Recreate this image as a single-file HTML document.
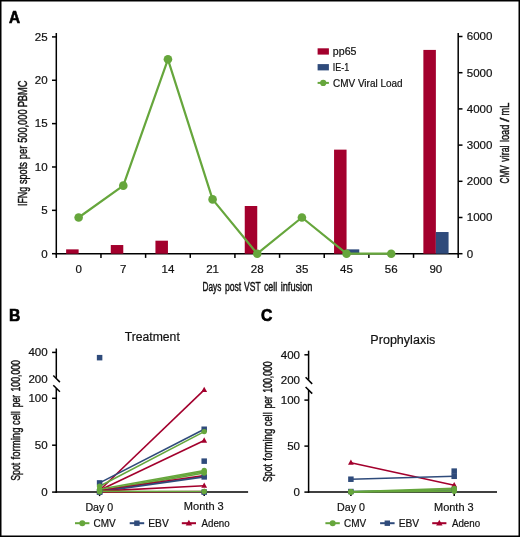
<!DOCTYPE html>
<html><head><meta charset="utf-8"><style>
html,body{margin:0;padding:0;background:#fff;}
svg{display:block;will-change:transform;}
text{font-family:"Liberation Sans", sans-serif;stroke:#111;stroke-width:0.2px;}
</style></head><body>
<svg width="520" height="537" viewBox="0 0 520 537">
<rect width="520" height="537" fill="#fff"/>
<text x="9.07" y="22.6" font-size="15.7" font-weight="bold" fill="#000" style="stroke:#000;stroke-width:0.6px" textLength="11.09" lengthAdjust="spacingAndGlyphs">A</text>
<line x1="56.3" y1="33" x2="56.3" y2="254.45" stroke="#000" stroke-width="1.5" />
<line x1="458.2" y1="33" x2="458.2" y2="254.45" stroke="#000" stroke-width="1.5" />
<line x1="55.55" y1="253.7" x2="458.95" y2="253.7" stroke="#000" stroke-width="1.5" />
<line x1="52" y1="253.7" x2="56.3" y2="253.7" stroke="#000" stroke-width="1.5" />
<text x="47.72" y="257.55" font-size="11" text-anchor="end" fill="#111" textLength="6.42" lengthAdjust="spacingAndGlyphs">0</text>
<line x1="52" y1="210.34" x2="56.3" y2="210.34" stroke="#000" stroke-width="1.5" />
<text x="47.72" y="214.19" font-size="11" text-anchor="end" fill="#111" textLength="6.42" lengthAdjust="spacingAndGlyphs">5</text>
<line x1="52" y1="166.98" x2="56.3" y2="166.98" stroke="#000" stroke-width="1.5" />
<text x="47.72" y="170.83" font-size="11" text-anchor="end" fill="#111" textLength="12.85" lengthAdjust="spacingAndGlyphs">10</text>
<line x1="52" y1="123.62" x2="56.3" y2="123.62" stroke="#000" stroke-width="1.5" />
<text x="47.72" y="127.47" font-size="11" text-anchor="end" fill="#111" textLength="12.85" lengthAdjust="spacingAndGlyphs">15</text>
<line x1="52" y1="80.26" x2="56.3" y2="80.26" stroke="#000" stroke-width="1.5" />
<text x="47.72" y="84.11" font-size="11" text-anchor="end" fill="#111" textLength="12.85" lengthAdjust="spacingAndGlyphs">20</text>
<line x1="52" y1="36.9" x2="56.3" y2="36.9" stroke="#000" stroke-width="1.5" />
<text x="47.72" y="40.75" font-size="11" text-anchor="end" fill="#111" textLength="12.85" lengthAdjust="spacingAndGlyphs">25</text>
<line x1="458.2" y1="253.7" x2="462.5" y2="253.7" stroke="#000" stroke-width="1.5" />
<text x="466.78" y="257.55" font-size="11" text-anchor="start" fill="#111" textLength="6.42" lengthAdjust="spacingAndGlyphs">0</text>
<line x1="458.2" y1="217.5" x2="462.5" y2="217.5" stroke="#000" stroke-width="1.5" />
<text x="466.76" y="221.35" font-size="11" text-anchor="start" fill="#111" textLength="25.69" lengthAdjust="spacingAndGlyphs">1000</text>
<line x1="458.2" y1="181.3" x2="462.5" y2="181.3" stroke="#000" stroke-width="1.5" />
<text x="466.77" y="185.15" font-size="11" text-anchor="start" fill="#111" textLength="25.69" lengthAdjust="spacingAndGlyphs">2000</text>
<line x1="458.2" y1="145.1" x2="462.5" y2="145.1" stroke="#000" stroke-width="1.5" />
<text x="466.78" y="148.95" font-size="11" text-anchor="start" fill="#111" textLength="25.69" lengthAdjust="spacingAndGlyphs">3000</text>
<line x1="458.2" y1="108.9" x2="462.5" y2="108.9" stroke="#000" stroke-width="1.5" />
<text x="466.79" y="112.75" font-size="11" text-anchor="start" fill="#111" textLength="25.69" lengthAdjust="spacingAndGlyphs">4000</text>
<line x1="458.2" y1="72.7" x2="462.5" y2="72.7" stroke="#000" stroke-width="1.5" />
<text x="466.78" y="76.55" font-size="11" text-anchor="start" fill="#111" textLength="25.69" lengthAdjust="spacingAndGlyphs">5000</text>
<line x1="458.2" y1="36.5" x2="462.5" y2="36.5" stroke="#000" stroke-width="1.5" />
<text x="466.77" y="40.35" font-size="11" text-anchor="start" fill="#111" textLength="25.69" lengthAdjust="spacingAndGlyphs">6000</text>
<line x1="56.3" y1="253.7" x2="56.3" y2="257.9" stroke="#000" stroke-width="1.5" />
<line x1="100.96" y1="253.7" x2="100.96" y2="257.9" stroke="#000" stroke-width="1.5" />
<line x1="145.61" y1="253.7" x2="145.61" y2="257.9" stroke="#000" stroke-width="1.5" />
<line x1="190.27" y1="253.7" x2="190.27" y2="257.9" stroke="#000" stroke-width="1.5" />
<line x1="234.92" y1="253.7" x2="234.92" y2="257.9" stroke="#000" stroke-width="1.5" />
<line x1="279.58" y1="253.7" x2="279.58" y2="257.9" stroke="#000" stroke-width="1.5" />
<line x1="324.23" y1="253.7" x2="324.23" y2="257.9" stroke="#000" stroke-width="1.5" />
<line x1="368.89" y1="253.7" x2="368.89" y2="257.9" stroke="#000" stroke-width="1.5" />
<line x1="413.54" y1="253.7" x2="413.54" y2="257.9" stroke="#000" stroke-width="1.5" />
<line x1="458.2" y1="253.7" x2="458.2" y2="257.9" stroke="#000" stroke-width="1.5" />
<text x="78.63" y="272.75" font-size="11" text-anchor="middle" fill="#111" textLength="6.42" lengthAdjust="spacingAndGlyphs">0</text>
<rect x="66.13" y="249.36" width="12.5" height="4.34" fill="#a3002d"/>
<text x="123.28" y="272.75" font-size="11" text-anchor="middle" fill="#111" textLength="6.42" lengthAdjust="spacingAndGlyphs">7</text>
<rect x="110.78" y="245.03" width="12.5" height="8.67" fill="#a3002d"/>
<text x="167.94" y="272.75" font-size="11" text-anchor="middle" fill="#111" textLength="12.85" lengthAdjust="spacingAndGlyphs">14</text>
<rect x="155.44" y="240.69" width="12.5" height="13.01" fill="#a3002d"/>
<text x="212.59" y="272.75" font-size="11" text-anchor="middle" fill="#111" textLength="12.85" lengthAdjust="spacingAndGlyphs">21</text>
<text x="257.25" y="272.75" font-size="11" text-anchor="middle" fill="#111" textLength="12.85" lengthAdjust="spacingAndGlyphs">28</text>
<rect x="244.75" y="206" width="12.5" height="47.7" fill="#a3002d"/>
<text x="301.91" y="272.75" font-size="11" text-anchor="middle" fill="#111" textLength="12.85" lengthAdjust="spacingAndGlyphs">35</text>
<text x="346.56" y="272.75" font-size="11" text-anchor="middle" fill="#111" textLength="12.85" lengthAdjust="spacingAndGlyphs">45</text>
<rect x="334.06" y="149.64" width="12.5" height="104.06" fill="#a3002d"/>
<rect x="346.56" y="249.36" width="12.7" height="4.34" fill="#2f4b7b"/>
<text x="391.22" y="272.75" font-size="11" text-anchor="middle" fill="#111" textLength="12.85" lengthAdjust="spacingAndGlyphs">56</text>
<text x="435.87" y="272.75" font-size="11" text-anchor="middle" fill="#111" textLength="12.85" lengthAdjust="spacingAndGlyphs">90</text>
<rect x="423.37" y="49.91" width="12.5" height="203.79" fill="#a3002d"/>
<rect x="435.87" y="232.02" width="12.7" height="21.68" fill="#2f4b7b"/>
<polyline points="78.63,217.5 123.28,185.64 167.94,59.31 212.59,199.4 257.25,253.7 301.91,217.5 346.56,253.7 391.22,253.7" fill="none" stroke="#66a63c" stroke-width="2.2" stroke-linejoin="round"/>
<circle cx="78.63" cy="217.5" r="4.3" fill="#66a63c"/>
<circle cx="123.28" cy="185.64" r="4.3" fill="#66a63c"/>
<circle cx="167.94" cy="59.31" r="4.3" fill="#66a63c"/>
<circle cx="212.59" cy="199.4" r="4.3" fill="#66a63c"/>
<circle cx="257.25" cy="253.7" r="4.3" fill="#66a63c"/>
<circle cx="301.91" cy="217.5" r="4.3" fill="#66a63c"/>
<circle cx="346.56" cy="253.7" r="4.3" fill="#66a63c"/>
<circle cx="391.22" cy="253.7" r="4.3" fill="#66a63c"/>
<text x="202.52" y="291" font-size="13.5"  fill="#111" style="stroke:#111;stroke-width:0.45px" textLength="18.77" lengthAdjust="spacingAndGlyphs">Days</text>
<text x="224.94" y="291" font-size="13.5"  fill="#111" style="stroke:#111;stroke-width:0.45px" textLength="16.32" lengthAdjust="spacingAndGlyphs">post</text>
<text x="244.06" y="291" font-size="13.5"  fill="#111" style="stroke:#111;stroke-width:0.45px" textLength="16.63" lengthAdjust="spacingAndGlyphs">VST</text>
<text x="263.92" y="291" font-size="13.5"  fill="#111" style="stroke:#111;stroke-width:0.45px" textLength="13.27" lengthAdjust="spacingAndGlyphs">cell</text>
<text x="280.68" y="291" font-size="13.5"  fill="#111" style="stroke:#111;stroke-width:0.45px" textLength="31.71" lengthAdjust="spacingAndGlyphs">infusion</text>
<text transform="translate(27 206.02) rotate(-90)" font-size="13.5" fill="#111" style="stroke:#111;stroke-width:0.45px" textLength="19.19" lengthAdjust="spacingAndGlyphs">IFNg</text>
<text transform="translate(27 184.05) rotate(-90)" font-size="13.5" fill="#111" style="stroke:#111;stroke-width:0.45px" textLength="21.78" lengthAdjust="spacingAndGlyphs">spots</text>
<text transform="translate(27 159.3) rotate(-90)" font-size="13.5" fill="#111" style="stroke:#111;stroke-width:0.45px" textLength="13.56" lengthAdjust="spacingAndGlyphs">per</text>
<text transform="translate(27 142.87) rotate(-90)" font-size="13.5" fill="#111" style="stroke:#111;stroke-width:0.45px" textLength="33.43" lengthAdjust="spacingAndGlyphs">500,000</text>
<text transform="translate(27 107.36) rotate(-90)" font-size="13.5" fill="#111" style="stroke:#111;stroke-width:0.45px" textLength="26.92" lengthAdjust="spacingAndGlyphs">PBMC</text>
<text transform="translate(509.3 183.41) rotate(-90)" font-size="13.5" fill="#111" style="stroke:#111;stroke-width:0.45px" textLength="18.15" lengthAdjust="spacingAndGlyphs">CMV</text>
<text transform="translate(509.3 161.63) rotate(-90)" font-size="13.5" fill="#111" style="stroke:#111;stroke-width:0.45px" textLength="16.12" lengthAdjust="spacingAndGlyphs">viral</text>
<text transform="translate(509.3 142.12) rotate(-90)" font-size="13.5" fill="#111" style="stroke:#111;stroke-width:0.45px" textLength="17.41" lengthAdjust="spacingAndGlyphs">load</text>
<text transform="translate(509.3 121.9) rotate(-90)" font-size="13.5" fill="#111" style="stroke:#111;stroke-width:0.45px" textLength="4.5" lengthAdjust="spacingAndGlyphs">/</text>
<text transform="translate(509.3 115.51) rotate(-90)" font-size="13.5" fill="#111" style="stroke:#111;stroke-width:0.45px" textLength="12.82" lengthAdjust="spacingAndGlyphs">mL</text>
<rect x="317.6" y="48.3" width="11.3" height="6.3" fill="#a3002d"/>
<rect x="317.6" y="64.1" width="11.3" height="6.3" fill="#2f4b7b"/>
<line x1="317.6" y1="82.9" x2="328.9" y2="82.9" stroke="#66a63c" stroke-width="2" />
<circle cx="323.2" cy="82.9" r="3.1" fill="#66a63c"/>
<text x="332.82" y="54.8" font-size="10.5"  fill="#111" textLength="23.63" lengthAdjust="spacingAndGlyphs">pp65</text>
<text x="332.67" y="70.9" font-size="10.5"  fill="#111" textLength="16.47" lengthAdjust="spacingAndGlyphs">IE-1</text>
<text x="333" y="87" font-size="10.5"  fill="#111" textLength="69.54" lengthAdjust="spacingAndGlyphs">CMV Viral Load</text>
<text x="8.9" y="321.3" font-size="15.7" font-weight="bold" fill="#000" style="stroke:#000;stroke-width:0.6px" textLength="11.37" lengthAdjust="spacingAndGlyphs">B</text>
<text x="124.73" y="340.8" font-size="12.5"  fill="#111" textLength="55.06" lengthAdjust="spacingAndGlyphs">Treatment</text>
<line x1="56.3" y1="348.5" x2="56.3" y2="377.9" stroke="#000" stroke-width="1.5" />
<line x1="53.3" y1="375.5" x2="59.9" y2="382.1" stroke="#000" stroke-width="1.5" />
<line x1="53.3" y1="385.2" x2="59.9" y2="391.8" stroke="#000" stroke-width="1.5" />
<line x1="56.3" y1="388.2" x2="56.3" y2="492.85" stroke="#000" stroke-width="1.5" />
<line x1="55.55" y1="492.1" x2="248.1" y2="492.1" stroke="#000" stroke-width="1.5" />
<line x1="52.1" y1="352.4" x2="56.3" y2="352.4" stroke="#000" stroke-width="1.5" />
<line x1="52.1" y1="398.3" x2="56.3" y2="398.3" stroke="#000" stroke-width="1.5" />
<line x1="52.1" y1="445.2" x2="56.3" y2="445.2" stroke="#000" stroke-width="1.5" />
<line x1="52.1" y1="492.1" x2="56.3" y2="492.1" stroke="#000" stroke-width="1.5" />
<text x="47.72" y="356.25" font-size="11" text-anchor="end" fill="#111" textLength="19.27" lengthAdjust="spacingAndGlyphs">400</text>
<text x="47.72" y="382.55" font-size="11" text-anchor="end" fill="#111" textLength="19.27" lengthAdjust="spacingAndGlyphs">200</text>
<text x="47.72" y="402.15" font-size="11" text-anchor="end" fill="#111" textLength="19.27" lengthAdjust="spacingAndGlyphs">100</text>
<text x="47.72" y="449.05" font-size="11" text-anchor="end" fill="#111" textLength="12.85" lengthAdjust="spacingAndGlyphs">50</text>
<text x="47.72" y="495.95" font-size="11" text-anchor="end" fill="#111" textLength="6.42" lengthAdjust="spacingAndGlyphs">0</text>
<line x1="99.6" y1="492.1" x2="99.6" y2="496.1" stroke="#000" stroke-width="1.5" />
<line x1="204.2" y1="492.1" x2="204.2" y2="496.1" stroke="#000" stroke-width="1.5" />
<text x="85.42" y="510.6" font-size="11"  fill="#111" textLength="27.89" lengthAdjust="spacingAndGlyphs">Day 0</text>
<text x="183.79" y="510.4" font-size="11"  fill="#111" textLength="39.99" lengthAdjust="spacingAndGlyphs">Month 3</text>
<text transform="translate(19.6 480.8) rotate(-90)" font-size="12.5" fill="#111" style="stroke:#111;stroke-width:0.45px" textLength="18.06" lengthAdjust="spacingAndGlyphs">Spot</text>
<text transform="translate(19.6 459.54) rotate(-90)" font-size="12.5" fill="#111" style="stroke:#111;stroke-width:0.45px" textLength="32.06" lengthAdjust="spacingAndGlyphs">forming</text>
<text transform="translate(19.6 424.99) rotate(-90)" font-size="12.5" fill="#111" style="stroke:#111;stroke-width:0.45px" textLength="13.91" lengthAdjust="spacingAndGlyphs">cell</text>
<text transform="translate(19.6 407.25) rotate(-90)" font-size="12.5" fill="#111" style="stroke:#111;stroke-width:0.45px" textLength="12.4" lengthAdjust="spacingAndGlyphs">per</text>
<text transform="translate(19.6 391.46) rotate(-90)" font-size="12.5" fill="#111" style="stroke:#111;stroke-width:0.45px" textLength="31.3" lengthAdjust="spacingAndGlyphs">100,000</text>
<line x1="75" y1="523.2" x2="89.4" y2="523.2" stroke="#66a63c" stroke-width="2" />
<circle cx="82.3" cy="523.2" r="3" fill="#66a63c"/>
<line x1="129.7" y1="523.2" x2="144.2" y2="523.2" stroke="#2f4b7b" stroke-width="2" />
<rect x="134.2" y="520.5" width="5.4" height="5.4" fill="#2f4b7b"/>
<line x1="181.8" y1="523.2" x2="196" y2="523.2" stroke="#a3002d" stroke-width="2" />
<polygon points="188.9,519.67 192.1,525.56 185.7,525.56" fill="#a3002d"/>
<text x="93.59" y="526.8" font-size="10.3"  fill="#111" textLength="22.15" lengthAdjust="spacingAndGlyphs">CMV</text>
<text x="148.26" y="526.8" font-size="10.3"  fill="#111" textLength="20.48" lengthAdjust="spacingAndGlyphs">EBV</text>
<text x="201.48" y="526.8" font-size="10.3"  fill="#111" textLength="28.23" lengthAdjust="spacingAndGlyphs">Adeno</text>
<line x1="99.6" y1="490.22" x2="204.2" y2="389.86" stroke="#a3002d" stroke-width="1.6" />
<line x1="99.6" y1="482.91" x2="204.2" y2="429.25" stroke="#2f4b7b" stroke-width="1.6" />
<line x1="99.6" y1="486.19" x2="204.2" y2="431.6" stroke="#66a63c" stroke-width="1.6" />
<line x1="99.6" y1="490.22" x2="204.2" y2="440.51" stroke="#a3002d" stroke-width="1.6" />
<line x1="99.6" y1="489.29" x2="204.2" y2="470.53" stroke="#66a63c" stroke-width="1.6" />
<line x1="99.6" y1="490.6" x2="204.2" y2="471.65" stroke="#66a63c" stroke-width="1.6" />
<line x1="99.6" y1="491.72" x2="204.2" y2="473.06" stroke="#66a63c" stroke-width="1.6" />
<line x1="99.6" y1="490.69" x2="204.2" y2="475.59" stroke="#a3002d" stroke-width="1.6" />
<line x1="99.6" y1="491.63" x2="204.2" y2="476.9" stroke="#2f4b7b" stroke-width="1.6" />
<line x1="99.6" y1="491.16" x2="204.2" y2="485.72" stroke="#a3002d" stroke-width="1.6" />
<line x1="99.6" y1="492.1" x2="204.2" y2="492.1" stroke="#2f4b7b" stroke-width="1.6" />
<line x1="99.6" y1="492.1" x2="204.2" y2="491.63" stroke="#a3002d" stroke-width="1.6" />
<line x1="99.6" y1="491.35" x2="204.2" y2="491.54" stroke="#66a63c" stroke-width="1.6" />
<polygon points="99.6,487.02 102.5,492.36 96.7,492.36" fill="#a3002d"/>
<polygon points="204.2,386.66 207.1,391.99 201.3,391.99" fill="#a3002d"/>
<polygon points="99.6,487.02 102.5,492.36 96.7,492.36" fill="#a3002d"/>
<polygon points="204.2,437.31 207.1,442.64 201.3,442.64" fill="#a3002d"/>
<polygon points="99.6,487.49 102.5,492.83 96.7,492.83" fill="#a3002d"/>
<polygon points="204.2,472.39 207.1,477.73 201.3,477.73" fill="#a3002d"/>
<polygon points="99.6,487.96 102.5,493.3 96.7,493.3" fill="#a3002d"/>
<polygon points="204.2,482.52 207.1,487.86 201.3,487.86" fill="#a3002d"/>
<polygon points="99.6,488.9 102.5,494.23 96.7,494.23" fill="#a3002d"/>
<polygon points="204.2,488.43 207.1,493.77 201.3,493.77" fill="#a3002d"/>
<rect x="96.85" y="480.16" width="5.5" height="5.5" fill="#2f4b7b"/>
<rect x="201.45" y="426.5" width="5.5" height="5.5" fill="#2f4b7b"/>
<rect x="96.85" y="354.91" width="5.5" height="5.5" fill="#2f4b7b"/>
<rect x="201.45" y="458.4" width="5.5" height="5.5" fill="#2f4b7b"/>
<rect x="96.85" y="488.88" width="5.5" height="5.5" fill="#2f4b7b"/>
<rect x="201.45" y="474.15" width="5.5" height="5.5" fill="#2f4b7b"/>
<rect x="96.85" y="489.35" width="5.5" height="5.5" fill="#2f4b7b"/>
<rect x="201.45" y="489.35" width="5.5" height="5.5" fill="#2f4b7b"/>
<circle cx="99.6" cy="486.19" r="2.7" fill="#66a63c"/>
<circle cx="204.2" cy="431.6" r="2.7" fill="#66a63c"/>
<circle cx="99.6" cy="489.29" r="2.7" fill="#66a63c"/>
<circle cx="204.2" cy="470.53" r="2.7" fill="#66a63c"/>
<circle cx="99.6" cy="490.6" r="2.7" fill="#66a63c"/>
<circle cx="204.2" cy="471.65" r="2.7" fill="#66a63c"/>
<circle cx="99.6" cy="491.72" r="2.7" fill="#66a63c"/>
<circle cx="204.2" cy="473.06" r="2.7" fill="#66a63c"/>
<circle cx="99.6" cy="491.35" r="2.7" fill="#66a63c"/>
<circle cx="204.2" cy="491.54" r="2.7" fill="#66a63c"/>
<text x="261.1" y="321.3" font-size="15.7" font-weight="bold" fill="#000" style="stroke:#000;stroke-width:0.6px" textLength="11.38" lengthAdjust="spacingAndGlyphs">C</text>
<text x="370.37" y="343.5" font-size="12.5"  fill="#111" textLength="64.88" lengthAdjust="spacingAndGlyphs">Prophylaxis</text>
<line x1="308.6" y1="350.7" x2="308.6" y2="379.7" stroke="#000" stroke-width="1.5" />
<line x1="305.6" y1="377.3" x2="312.2" y2="383.9" stroke="#000" stroke-width="1.5" />
<line x1="305.6" y1="387" x2="312.2" y2="393.6" stroke="#000" stroke-width="1.5" />
<line x1="308.6" y1="390" x2="308.6" y2="492.85" stroke="#000" stroke-width="1.5" />
<line x1="307.85" y1="492.1" x2="497" y2="492.1" stroke="#000" stroke-width="1.5" />
<line x1="304.4" y1="354.8" x2="308.6" y2="354.8" stroke="#000" stroke-width="1.5" />
<line x1="304.4" y1="400.1" x2="308.6" y2="400.1" stroke="#000" stroke-width="1.5" />
<line x1="304.4" y1="446.1" x2="308.6" y2="446.1" stroke="#000" stroke-width="1.5" />
<line x1="304.4" y1="492.1" x2="308.6" y2="492.1" stroke="#000" stroke-width="1.5" />
<text x="300.02" y="358.65" font-size="11" text-anchor="end" fill="#111" textLength="19.27" lengthAdjust="spacingAndGlyphs">400</text>
<text x="300.02" y="384.35" font-size="11" text-anchor="end" fill="#111" textLength="19.27" lengthAdjust="spacingAndGlyphs">200</text>
<text x="300.02" y="403.95" font-size="11" text-anchor="end" fill="#111" textLength="19.27" lengthAdjust="spacingAndGlyphs">100</text>
<text x="300.02" y="449.95" font-size="11" text-anchor="end" fill="#111" textLength="12.85" lengthAdjust="spacingAndGlyphs">50</text>
<text x="300.02" y="495.95" font-size="11" text-anchor="end" fill="#111" textLength="6.42" lengthAdjust="spacingAndGlyphs">0</text>
<line x1="350.9" y1="492.1" x2="350.9" y2="496.1" stroke="#000" stroke-width="1.5" />
<line x1="454.2" y1="492.1" x2="454.2" y2="496.1" stroke="#000" stroke-width="1.5" />
<text x="337.12" y="510.7" font-size="11"  fill="#111" textLength="27.89" lengthAdjust="spacingAndGlyphs">Day 0</text>
<text x="434" y="510.6" font-size="11"  fill="#111" textLength="39.68" lengthAdjust="spacingAndGlyphs">Month 3</text>
<text transform="translate(272.2 482) rotate(-90)" font-size="12.5" fill="#111" style="stroke:#111;stroke-width:0.45px" textLength="18.06" lengthAdjust="spacingAndGlyphs">Spot</text>
<text transform="translate(272.2 460.74) rotate(-90)" font-size="12.5" fill="#111" style="stroke:#111;stroke-width:0.45px" textLength="32.06" lengthAdjust="spacingAndGlyphs">forming</text>
<text transform="translate(272.2 426.19) rotate(-90)" font-size="12.5" fill="#111" style="stroke:#111;stroke-width:0.45px" textLength="13.91" lengthAdjust="spacingAndGlyphs">cell</text>
<text transform="translate(272.2 408.45) rotate(-90)" font-size="12.5" fill="#111" style="stroke:#111;stroke-width:0.45px" textLength="12.4" lengthAdjust="spacingAndGlyphs">per</text>
<text transform="translate(272.2 392.66) rotate(-90)" font-size="12.5" fill="#111" style="stroke:#111;stroke-width:0.45px" textLength="31.3" lengthAdjust="spacingAndGlyphs">100,000</text>
<line x1="325.4" y1="523.2" x2="339.8" y2="523.2" stroke="#66a63c" stroke-width="2" />
<circle cx="332.7" cy="523.2" r="3" fill="#66a63c"/>
<line x1="380.1" y1="523.2" x2="394.6" y2="523.2" stroke="#2f4b7b" stroke-width="2" />
<rect x="384.6" y="520.5" width="5.4" height="5.4" fill="#2f4b7b"/>
<line x1="432.2" y1="523.2" x2="446.4" y2="523.2" stroke="#a3002d" stroke-width="2" />
<polygon points="439.3,519.67 442.5,525.56 436.1,525.56" fill="#a3002d"/>
<text x="343.99" y="526.8" font-size="10.3"  fill="#111" textLength="22.15" lengthAdjust="spacingAndGlyphs">CMV</text>
<text x="398.66" y="526.8" font-size="10.3"  fill="#111" textLength="20.48" lengthAdjust="spacingAndGlyphs">EBV</text>
<text x="451.88" y="526.8" font-size="10.3"  fill="#111" textLength="28.23" lengthAdjust="spacingAndGlyphs">Adeno</text>
<line x1="350.9" y1="462.66" x2="454.2" y2="485.2" stroke="#a3002d" stroke-width="1.6" />
<line x1="350.9" y1="479.22" x2="454.2" y2="476.28" stroke="#2f4b7b" stroke-width="1.6" />
<line x1="350.9" y1="491.55" x2="454.2" y2="489.98" stroke="#2f4b7b" stroke-width="1.6" />
<line x1="350.9" y1="491.92" x2="454.2" y2="488.42" stroke="#66a63c" stroke-width="1.6" />
<line x1="350.9" y1="491.82" x2="454.2" y2="489.8" stroke="#66a63c" stroke-width="1.6" />
<line x1="350.9" y1="492.01" x2="454.2" y2="491.18" stroke="#66a63c" stroke-width="1.6" />
<polygon points="350.9,459.46 353.8,464.79 348,464.79" fill="#a3002d"/>
<polygon points="454.2,482 457.1,487.33 451.3,487.33" fill="#a3002d"/>
<rect x="348.15" y="476.47" width="5.5" height="5.5" fill="#2f4b7b"/>
<rect x="451.45" y="473.53" width="5.5" height="5.5" fill="#2f4b7b"/>
<rect x="451.45" y="468.37" width="5.5" height="5.5" fill="#2f4b7b"/>
<rect x="348.15" y="488.8" width="5.5" height="5.5" fill="#2f4b7b"/>
<rect x="451.45" y="487.23" width="5.5" height="5.5" fill="#2f4b7b"/>
<circle cx="350.9" cy="491.92" r="2.7" fill="#66a63c"/>
<circle cx="454.2" cy="488.42" r="2.7" fill="#66a63c"/>
<circle cx="350.9" cy="491.82" r="2.7" fill="#66a63c"/>
<circle cx="454.2" cy="489.8" r="2.7" fill="#66a63c"/>
<circle cx="350.9" cy="492.01" r="2.7" fill="#66a63c"/>
<circle cx="454.2" cy="491.18" r="2.7" fill="#66a63c"/>
<rect x="0" y="0" width="520" height="1.5" fill="#000"/>
<rect x="0" y="0" width="1.5" height="537" fill="#000"/>
<rect x="518.5" y="0" width="1.5" height="537" fill="#000"/>
<rect x="0" y="535.5" width="520" height="1.5" fill="#000"/>
</svg>
</body></html>
